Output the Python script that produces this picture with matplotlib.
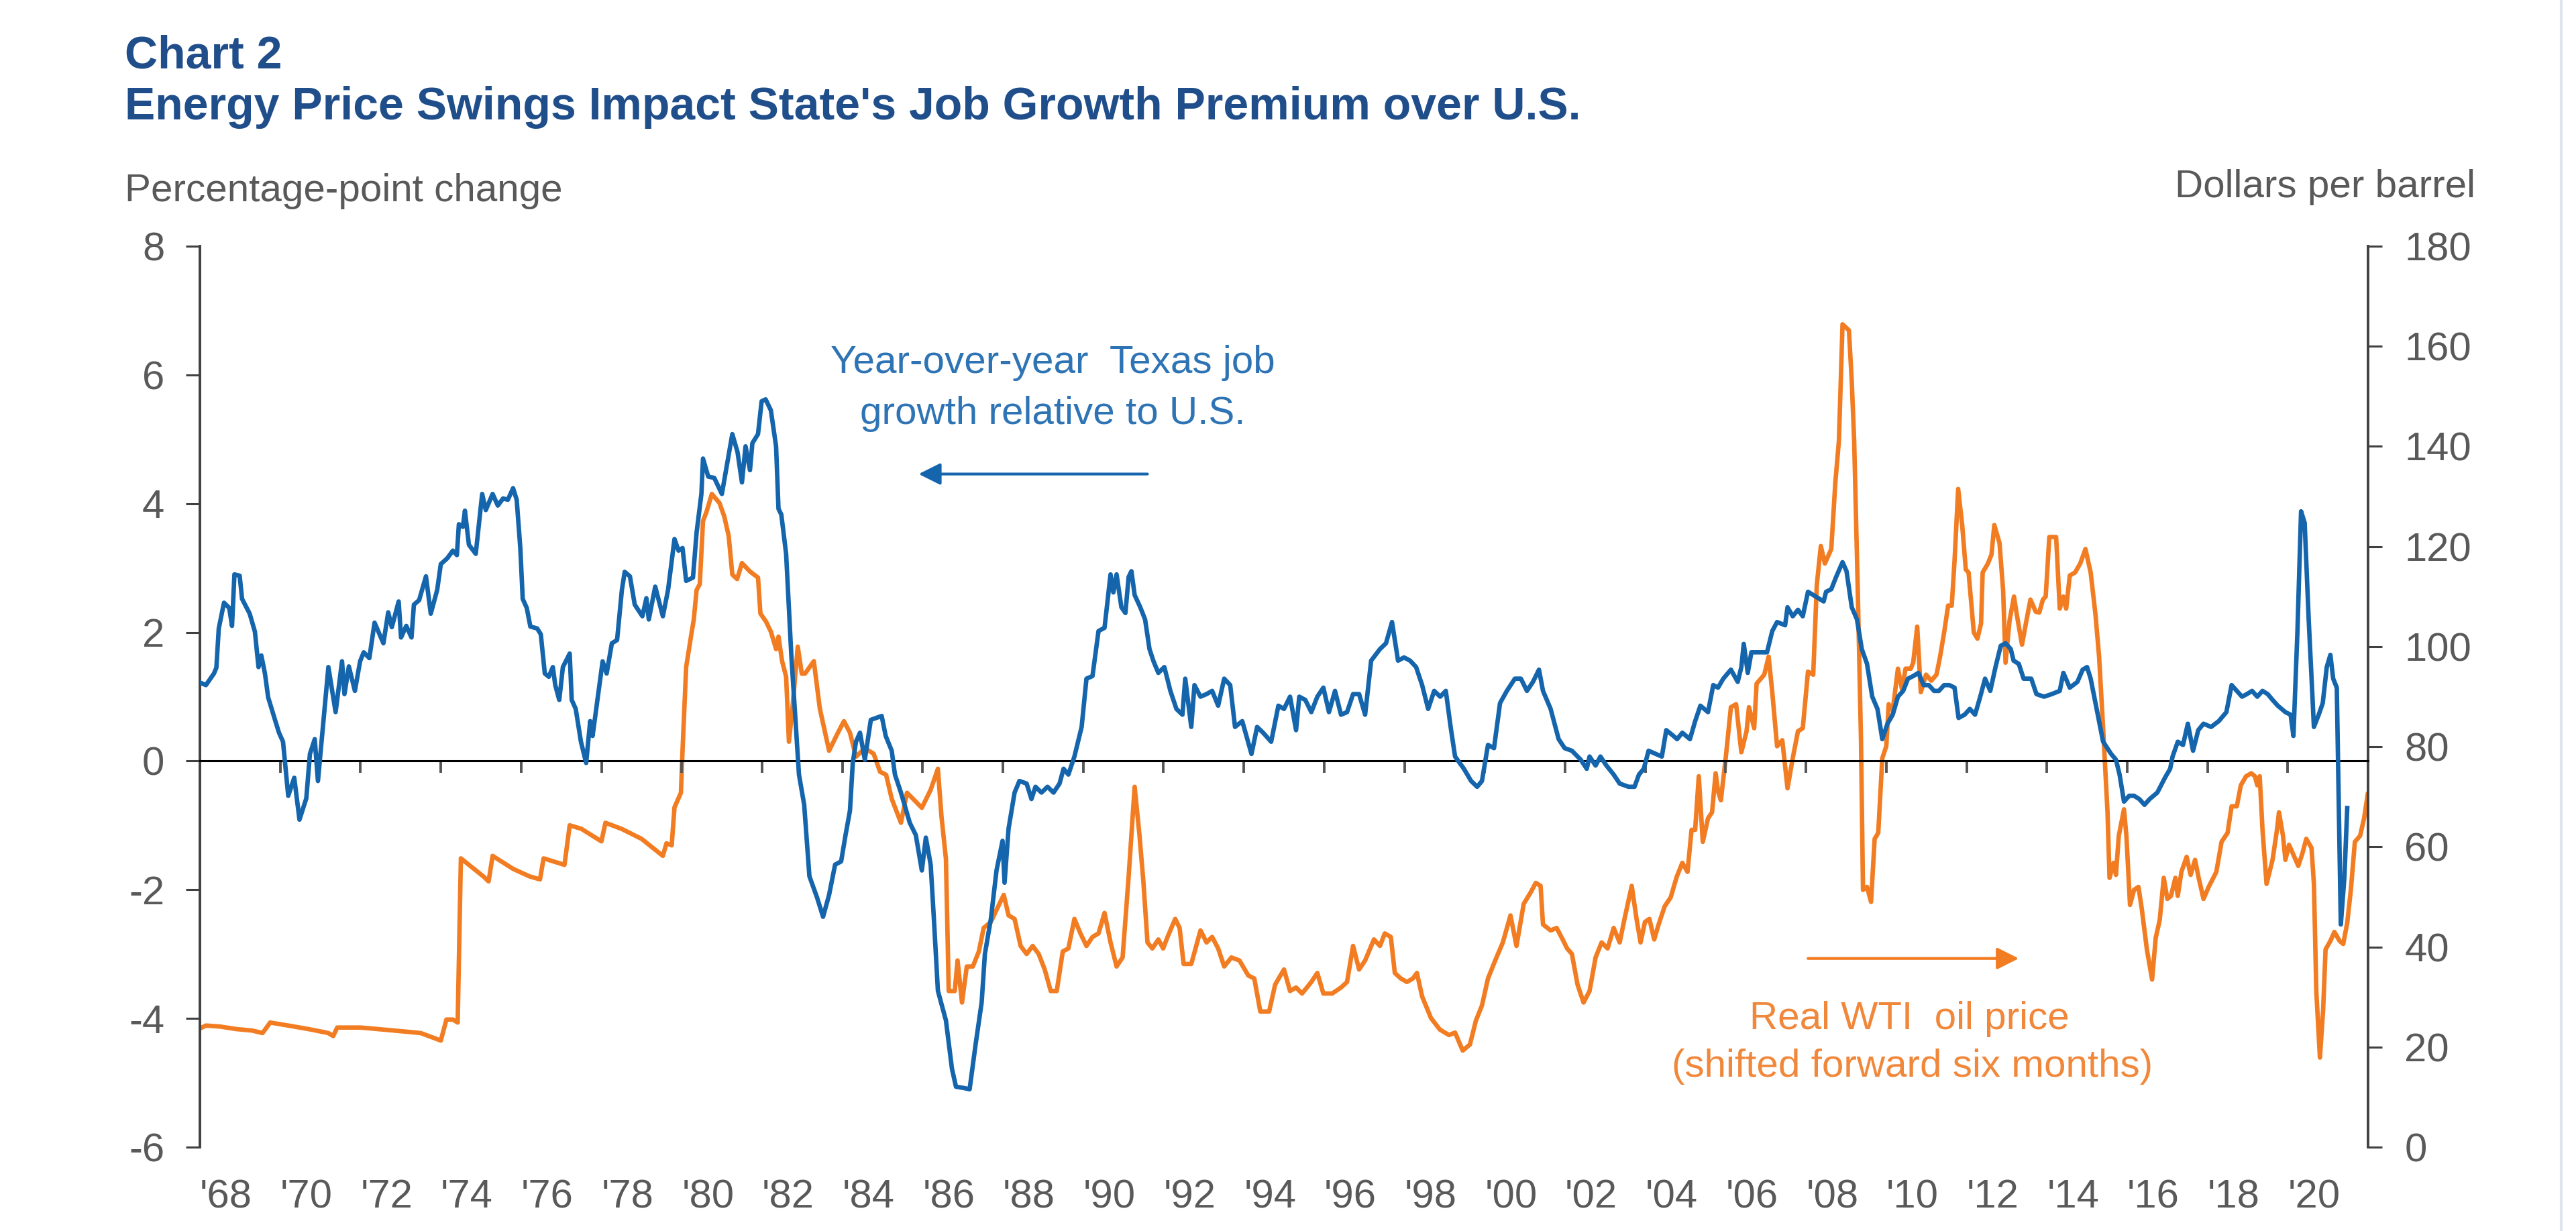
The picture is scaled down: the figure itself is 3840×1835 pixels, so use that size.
import matplotlib
matplotlib.use("Agg")
import matplotlib.pyplot as plt
import matplotlib.transforms as mtransforms

plt.rcParams["font.family"] = ["Liberation Sans", "DejaVu Sans"]

# Texas job growth relative to U.S. (percentage points)
tx_year = [
    1968.0, 1968.15, 1968.35, 1968.41, 1968.47, 1968.6, 1968.73, 1968.8, 1968.86, 1968.99,
    1969.05, 1969.24, 1969.37, 1969.46, 1969.53, 1969.62, 1969.7, 1969.88, 1969.97, 1970.07,
    1970.2, 1970.35, 1970.48, 1970.65, 1970.74, 1970.86, 1970.94, 1971.03, 1971.2, 1971.38,
    1971.54, 1971.6, 1971.71, 1971.86, 1971.99, 1972.08, 1972.22, 1972.35, 1972.57, 1972.69,
    1972.78, 1972.95, 1973.01, 1973.14, 1973.27, 1973.33, 1973.46, 1973.63, 1973.75, 1973.91,
    1974.0, 1974.16, 1974.3, 1974.4, 1974.45, 1974.55, 1974.6, 1974.7, 1974.87, 1975.03,
    1975.12, 1975.29, 1975.42, 1975.55, 1975.67, 1975.8, 1975.89, 1975.98, 1976.04, 1976.14,
    1976.23, 1976.4, 1976.49, 1976.59, 1976.69, 1976.79, 1976.85, 1976.95, 1977.04, 1977.21,
    1977.26, 1977.36, 1977.49, 1977.62, 1977.72, 1977.78, 1977.87, 1978.03, 1978.13, 1978.26,
    1978.39, 1978.51, 1978.58, 1978.71, 1978.83, 1979.02, 1979.12, 1979.18, 1979.34, 1979.53,
    1979.66, 1979.82, 1979.92, 1980.02, 1980.11, 1980.28, 1980.37, 1980.49, 1980.53, 1980.66,
    1980.81, 1981.0, 1981.26, 1981.39, 1981.5, 1981.59, 1981.7, 1981.76, 1981.9, 1981.99,
    1982.09, 1982.22, 1982.35, 1982.41, 1982.48, 1982.6, 1982.73, 1982.92, 1983.05, 1983.18,
    1983.37, 1983.52, 1983.67, 1983.82, 1983.97, 1984.08, 1984.19, 1984.26, 1984.34, 1984.44,
    1984.56, 1984.71, 1984.98, 1985.08, 1985.23, 1985.31, 1985.46, 1985.68, 1985.83, 1985.98,
    1986.08, 1986.2, 1986.28, 1986.38, 1986.58, 1986.73, 1986.83, 1987.02, 1987.17, 1987.32,
    1987.47, 1987.55, 1987.7, 1987.84, 1987.99, 1988.04, 1988.14, 1988.29, 1988.41, 1988.59,
    1988.71, 1988.81, 1988.96, 1989.11, 1989.26, 1989.41, 1989.51, 1989.63, 1989.78, 1989.96,
    1990.08, 1990.23, 1990.38, 1990.53, 1990.68, 1990.75, 1990.83, 1990.95, 1991.05, 1991.13,
    1991.2, 1991.28, 1991.42, 1991.54, 1991.65, 1991.75, 1991.87, 1992.02, 1992.17, 1992.32,
    1992.47, 1992.54, 1992.69, 1992.77, 1992.92, 1993.07, 1993.21, 1993.36, 1993.51, 1993.66,
    1993.78, 1993.96, 1994.19, 1994.33, 1994.48, 1994.68, 1994.86, 1995.0, 1995.15, 1995.3,
    1995.38, 1995.53, 1995.68, 1995.83, 1995.98, 1996.12, 1996.27, 1996.42, 1996.57, 1996.72,
    1996.87, 1997.02, 1997.17, 1997.39, 1997.54, 1997.69, 1997.84, 1997.99, 1998.14, 1998.29,
    1998.44, 1998.59, 1998.74, 1998.89, 1999.03, 1999.15, 1999.26, 1999.48, 1999.66, 1999.81,
    1999.93, 2000.08, 2000.23, 2000.38, 2000.55, 2000.75, 2000.9, 2001.05, 2001.2, 2001.35,
    2001.45, 2001.64, 2001.84, 2001.99, 2002.17, 2002.39, 2002.54, 2002.61, 2002.76, 2002.88,
    2003.03, 2003.21, 2003.36, 2003.58, 2003.73, 2003.84, 2003.96, 2004.08, 2004.26, 2004.41,
    2004.52, 2004.7, 2004.79, 2004.92, 2005.11, 2005.24, 2005.37, 2005.56, 2005.69, 2005.81,
    2005.94, 2006.13, 2006.3, 2006.39, 2006.45, 2006.55, 2006.64, 2006.84, 2007.03, 2007.16,
    2007.28, 2007.48, 2007.54, 2007.67, 2007.8, 2007.92, 2008.05, 2008.18, 2008.31, 2008.44,
    2008.5, 2008.63, 2008.75, 2008.91, 2009.01, 2009.14, 2009.27, 2009.39, 2009.52, 2009.65,
    2009.78, 2009.9, 2010.03, 2010.16, 2010.29, 2010.42, 2010.54, 2010.67, 2010.8, 2010.93,
    2011.06, 2011.19, 2011.31, 2011.44, 2011.57, 2011.7, 2011.8, 2011.95, 2012.08, 2012.21,
    2012.34, 2012.46, 2012.59, 2012.72, 2012.85, 2012.97, 2013.1, 2013.17, 2013.3, 2013.42,
    2013.61, 2013.74, 2013.93, 2014.12, 2014.32, 2014.41, 2014.57, 2014.76, 2014.89, 2015.0,
    2015.09, 2015.21, 2015.4, 2015.6, 2015.72, 2015.81, 2015.92, 2016.05, 2016.17, 2016.3,
    2016.43, 2016.56, 2016.75, 2016.94, 2017.07, 2017.13, 2017.26, 2017.39, 2017.51, 2017.64,
    2017.77, 2017.9, 2018.09, 2018.28, 2018.47, 2018.6, 2018.73, 2018.86, 2018.98, 2019.11,
    2019.24, 2019.37, 2019.5, 2019.62, 2019.75, 2019.94, 2020.07, 2020.14, 2020.24, 2020.33,
    2020.42, 2020.52, 2020.65, 2020.77, 2020.87, 2020.97, 2021.06, 2021.13, 2021.22, 2021.32,
    2021.41, 2021.48,
]
tx_value = [
    1.22, 1.18, 1.36, 1.45, 2.06, 2.46, 2.38, 2.1, 2.9, 2.88,
    2.52, 2.29, 2.01, 1.46, 1.64, 1.36, 0.99, 0.62, 0.44, 0.3,
    -0.54, -0.26, -0.91, -0.58, 0.11, 0.34, -0.31, 0.3, 1.46, 0.76,
    1.55, 1.04, 1.47, 1.09, 1.55, 1.69, 1.6, 2.15, 1.83, 2.31,
    2.08, 2.48, 1.92, 2.1, 1.92, 2.43, 2.5, 2.87, 2.29, 2.66,
    3.06, 3.15, 3.27, 3.2, 3.68, 3.64, 3.89, 3.36, 3.22, 4.15,
    3.9, 4.15, 3.97, 4.08, 4.06, 4.24, 4.06, 3.31, 2.52, 2.38,
    2.09, 2.06, 1.97, 1.36, 1.31, 1.46, 1.18, 0.95, 1.46, 1.67,
    0.95, 0.81, 0.3, -0.03, 0.62, 0.39, 0.81, 1.55, 1.36, 1.83,
    1.88, 2.66, 2.94, 2.87, 2.43, 2.25, 2.53, 2.2, 2.71, 2.25,
    2.66, 3.45, 3.27, 3.31, 2.8, 2.85, 3.55, 4.15, 4.7, 4.42,
    4.4, 4.15, 5.08, 4.8, 4.33, 4.89, 4.52, 4.94, 5.08, 5.59,
    5.62, 5.45, 4.89, 3.92, 3.83, 3.22, 1.64, -0.21, -0.68, -1.79,
    -2.12, -2.42, -2.08, -1.61, -1.56, -1.15, -0.77, -0.03, 0.3, 0.44,
    0.02, 0.64, 0.7, 0.39, 0.16, -0.21, -0.49, -0.96, -1.15, -1.7,
    -1.19, -1.61, -2.45, -3.57, -4.03, -4.78, -5.06, -5.08, -5.1, -4.4,
    -3.75, -3.0, -2.45, -1.7, -1.24, -1.89, -1.05, -0.49, -0.31, -0.35,
    -0.59, -0.4, -0.49, -0.4, -0.49, -0.35, -0.12, -0.21, 0.07, 0.53,
    1.28, 1.32, 2.02, 2.07, 2.9, 2.62, 2.9, 2.39, 2.3, 2.86,
    2.95, 2.58, 2.39, 2.2, 1.74, 1.55, 1.37, 1.46, 1.09, 0.81,
    0.72, 1.28, 0.53, 1.18, 1.0, 1.04, 1.09, 0.86, 1.28, 1.18,
    0.53, 0.62, 0.11, 0.53, 0.44, 0.3, 0.86, 0.81, 1.0, 0.48,
    1.0, 0.95, 0.76, 1.0, 1.14, 0.76, 1.09, 0.72, 0.76, 1.04,
    1.04, 0.72, 1.56, 1.74, 1.83, 2.16, 1.56, 1.61, 1.56, 1.46,
    1.18, 0.81, 1.09, 1.0, 1.09, 0.53, 0.07, -0.12, -0.31, -0.4,
    -0.31, 0.25, 0.2, 0.9, 1.09, 1.28, 1.28, 1.09, 1.23, 1.42,
    1.09, 0.81, 0.34, 0.2, 0.16, 0.02, -0.12, 0.07, -0.07, 0.07,
    -0.07, -0.21, -0.35, -0.4, -0.4, -0.21, -0.12, 0.16, 0.11, 0.07,
    0.48, 0.39, 0.34, 0.44, 0.34, 0.62, 0.86, 0.76, 1.18, 1.14,
    1.28, 1.42, 1.23, 1.46, 1.82, 1.37, 1.69, 1.69, 1.69, 2.02,
    2.16, 2.11, 2.39, 2.25, 2.35, 2.25, 2.63, 2.58, 2.53, 2.48,
    2.63, 2.67, 2.86, 3.09, 2.95, 2.39, 2.2, 1.74, 1.51, 1.0,
    0.81, 0.34, 0.58, 0.72, 1.0, 1.09, 1.28, 1.32, 1.37, 1.18,
    1.18, 1.09, 1.09, 1.18, 1.18, 1.14, 0.67, 0.72, 0.81, 0.72,
    1.0, 1.28, 1.09, 1.46, 1.79, 1.83, 1.74, 1.56, 1.51, 1.28,
    1.28, 1.04, 1.0, 1.04, 1.09, 1.37, 1.14, 1.23, 1.42, 1.46,
    1.28, 0.9, 0.3, 0.11, 0.02, -0.21, -0.63, -0.54, -0.54, -0.59,
    -0.68, -0.59, -0.49, -0.26, -0.12, 0.07, 0.3, 0.25, 0.58, 0.16,
    0.48, 0.58, 0.53, 0.62, 0.76, 1.18, 1.09, 1.0, 1.04, 1.09,
    1.0, 1.09, 1.04, 0.95, 0.86, 0.76, 0.72, 0.39, 2.02, 3.88,
    3.7, 2.2, 0.53, 0.72, 0.9, 1.46, 1.65, 1.28, 1.14, -2.54,
    -1.8, -0.73,
]

# Real WTI oil price shifted forward six months (dollars per barrel)
oil_year = [
    1968.0, 1968.15, 1968.5, 1968.9, 1969.3, 1969.56, 1969.75, 1970.2, 1970.7, 1971.2,
    1971.32, 1971.42, 1972.0, 1972.7, 1973.5, 1974.0, 1974.14, 1974.3, 1974.42, 1974.5,
    1974.7, 1975.06, 1975.19, 1975.29, 1975.8, 1976.21, 1976.47, 1976.56, 1977.08, 1977.21,
    1977.5, 1978.0, 1978.1, 1978.5, 1979.0, 1979.53, 1979.62, 1979.75, 1979.82, 1979.98,
    1980.02, 1980.11, 1980.24, 1980.3, 1980.37, 1980.45, 1980.53, 1980.62, 1980.75, 1980.94,
    1981.06, 1981.17, 1981.26, 1981.38, 1981.5, 1981.7, 1981.9, 1981.96, 1982.1, 1982.22,
    1982.35, 1982.41, 1982.5, 1982.6, 1982.67, 1982.76, 1982.89, 1982.99, 1983.07, 1983.29,
    1983.44, 1983.67, 1983.89, 1984.04, 1984.19, 1984.34, 1984.56, 1984.78, 1984.94, 1985.09,
    1985.23, 1985.46, 1985.61, 1985.76, 1985.98, 1986.2, 1986.38, 1986.47, 1986.58, 1986.65,
    1986.8, 1986.87, 1986.98, 1987.1, 1987.25, 1987.4, 1987.52, 1987.7, 1987.84, 1988.02,
    1988.14, 1988.29, 1988.44, 1988.59, 1988.74, 1988.89, 1989.04, 1989.19, 1989.34, 1989.49,
    1989.63, 1989.78, 1989.93, 1990.08, 1990.23, 1990.38, 1990.53, 1990.68, 1990.83, 1990.98,
    1991.13, 1991.28, 1991.4, 1991.5, 1991.6, 1991.72, 1991.87, 1991.99, 1992.1, 1992.29,
    1992.4, 1992.5, 1992.69, 1992.92, 1993.07, 1993.21, 1993.36, 1993.51, 1993.69, 1993.89,
    1994.11, 1994.26, 1994.41, 1994.63, 1994.78, 1995.0, 1995.15, 1995.3, 1995.45, 1995.68,
    1995.83, 1995.98, 1996.2, 1996.42, 1996.57, 1996.72, 1996.87, 1997.02, 1997.24, 1997.39,
    1997.51, 1997.66, 1997.76, 1997.91, 1998.06, 1998.21, 1998.31, 1998.44, 1998.66, 1998.88,
    1999.11, 1999.26, 1999.45, 1999.63, 1999.78, 1999.93, 2000.08, 2000.26, 2000.45, 2000.64,
    2000.79, 2000.97, 2001.15, 2001.27, 2001.39, 2001.45, 2001.64, 2001.79, 2001.94, 2002.05,
    2002.17, 2002.31, 2002.46, 2002.61, 2002.76, 2002.91, 2003.06, 2003.21, 2003.36, 2003.48,
    2003.66, 2003.78, 2003.88, 2003.99, 2004.1, 2004.22, 2004.33, 2004.48, 2004.63, 2004.78,
    2004.92, 2005.05, 2005.15, 2005.24, 2005.33, 2005.43, 2005.56, 2005.66, 2005.75, 2005.81,
    2005.88, 2006.0, 2006.13, 2006.26, 2006.39, 2006.52, 2006.58, 2006.71, 2006.77, 2006.96,
    2007.07, 2007.16, 2007.28, 2007.41, 2007.54, 2007.67, 2007.8, 2007.92, 2008.05, 2008.18,
    2008.27, 2008.37, 2008.47, 2008.63, 2008.73, 2008.82, 2008.91, 2009.07, 2009.14, 2009.2,
    2009.29, 2009.37, 2009.42, 2009.52, 2009.62, 2009.71, 2009.8, 2009.9, 2010.0, 2010.06,
    2010.16, 2010.29, 2010.39, 2010.48, 2010.61, 2010.67, 2010.77, 2010.86, 2010.99, 2011.12,
    2011.25, 2011.34, 2011.44, 2011.54, 2011.63, 2011.7, 2011.79, 2011.89, 2011.98, 2012.05,
    2012.18, 2012.27, 2012.36, 2012.4, 2012.53, 2012.62, 2012.69, 2012.82, 2012.91, 2012.97,
    2013.07, 2013.18, 2013.25, 2013.38, 2013.49, 2013.59, 2013.72, 2013.81, 2013.9, 2013.97,
    2014.06, 2014.23, 2014.32, 2014.41, 2014.48, 2014.57, 2014.7, 2014.83, 2014.96, 2015.09,
    2015.21, 2015.3, 2015.4, 2015.51, 2015.56, 2015.66, 2015.72, 2015.79, 2015.92, 2015.98,
    2016.07, 2016.17, 2016.28, 2016.36, 2016.49, 2016.62, 2016.71, 2016.81, 2016.91, 2017.0,
    2017.09, 2017.2, 2017.26, 2017.35, 2017.48, 2017.58, 2017.69, 2017.78, 2017.9, 2018.03,
    2018.22, 2018.35, 2018.5, 2018.6, 2018.73, 2018.83, 2018.96, 2019.09, 2019.18, 2019.24,
    2019.3, 2019.37, 2019.47, 2019.62, 2019.73, 2019.78, 2019.88, 2019.94, 2020.03, 2020.13,
    2020.26, 2020.36, 2020.46, 2020.59, 2020.65, 2020.71, 2020.8, 2020.88, 2020.94, 2021.06,
    2021.16, 2021.29, 2021.38, 2021.48, 2021.57, 2021.67, 2021.8, 2021.9, 2021.99,
]
oil_price = [
    23.7, 24.3, 24.1, 23.6, 23.3, 22.8, 24.9, 24.3, 23.6, 22.8,
    22.2, 23.9, 23.9, 23.4, 22.8, 21.3, 25.5, 25.5, 24.9, 57.7,
    56.4, 54.1, 53.1, 58.2, 55.6, 54.1, 53.5, 57.7, 56.4, 64.3,
    63.6, 61.1, 64.8, 63.6, 61.6, 58.2, 60.7, 60.3, 67.9, 70.8,
    79.2, 95.9, 102.5, 105.4, 111.3, 112.5, 125.1, 127.0, 130.5, 128.7,
    126.0, 122.1, 114.4, 113.5, 116.7, 115.0, 113.8, 106.6, 105.0, 103.0,
    99.5, 102.0, 97.1, 94.0, 81.0, 88.0, 100.0, 94.6, 94.6, 97.1,
    87.6, 79.2, 82.8, 85.1, 82.8, 78.0, 79.7, 78.6, 75.0, 74.4,
    69.6, 64.8, 70.8, 69.6, 67.8, 71.4, 75.6, 66.0, 57.6, 31.2,
    31.2, 37.3, 28.9, 36.1, 36.1, 39.1, 43.8, 45.0, 47.4, 50.4,
    46.3, 45.6, 40.2, 38.6, 40.2, 38.6, 35.5, 31.2, 31.2, 39.1,
    39.7, 45.6, 42.7, 40.2, 42.0, 42.7, 46.8, 40.9, 36.1, 37.9,
    54.0, 72.0, 62.4, 52.8, 40.9, 39.7, 41.5, 39.7, 42.0, 45.6,
    43.8, 36.6, 36.6, 43.3, 40.9, 42.0, 39.7, 36.1, 37.9, 37.3,
    34.3, 33.7, 27.1, 27.1, 32.5, 35.5, 31.2, 31.9, 30.7, 33.0,
    34.8, 30.7, 30.7, 31.9, 33.0, 40.2, 35.5, 37.3, 41.5, 40.2,
    42.7, 42.0, 34.8, 33.7, 33.0, 33.7, 34.8, 30.1, 25.8, 23.5,
    22.4, 22.9, 19.3, 20.5, 25.3, 28.3, 33.7, 37.3, 40.9, 46.3,
    40.2, 48.6, 51.0, 52.8, 52.2, 44.5, 43.3, 43.8, 41.5, 39.7,
    38.6, 32.5, 28.9, 31.2, 37.9, 40.9, 39.7, 43.8, 40.9, 45.6,
    52.2, 45.6, 40.9, 45.0, 45.6, 41.5, 44.5, 48.1, 49.9, 54.0,
    56.8, 55.0, 63.4, 63.4, 74.1, 61.0, 65.7, 66.9, 74.7, 71.1,
    69.3, 77.7, 87.9, 88.5, 78.9, 83.1, 87.9, 83.7, 92.6, 94.4,
    98.0, 90.9, 80.1, 81.3, 71.7, 77.7, 83.1, 83.7, 95.0, 94.4,
    112.4, 120.1, 116.6, 119.5, 132.7, 141.1, 164.4, 163.2, 153.0, 141.1,
    111.2, 81.3, 51.4, 52.0, 49.0, 61.6, 62.8, 77.7, 80.1, 88.5,
    87.3, 95.6, 91.5, 95.6, 95.6, 96.8, 104.0, 90.9, 94.4, 93.2,
    94.4, 98.0, 102.8, 108.2, 108.2, 117.2, 131.5, 124.3, 115.4, 114.8,
    102.8, 101.6, 104.6, 114.8, 116.6, 118.4, 124.3, 120.7, 111.2, 96.8,
    105.2, 110.0, 106.4, 100.4, 105.2, 109.4, 107.0, 106.8, 109.4, 110.0,
    121.9, 121.9, 107.6, 110.0, 107.6, 114.2, 114.8, 116.6, 119.5, 114.8,
    106.4, 98.0, 83.7, 66.9, 53.8, 56.8, 54.4, 62.2, 67.5, 62.2,
    48.4, 51.4, 52.0, 47.8, 39.5, 33.5, 41.8, 45.4, 53.8, 49.6,
    50.2, 53.8, 50.2, 55.0, 58.0, 54.4, 57.4, 53.8, 49.6, 52.0,
    55.0, 61.0, 62.8, 68.1, 68.1, 72.3, 74.1, 74.7, 74.1, 72.3,
    74.1, 63.4, 52.6, 57.4, 63.4, 66.9, 62.2, 57.4, 60.4, 58.6,
    56.2, 58.6, 61.6, 59.8, 52.6, 31.1, 17.9, 27.5, 39.5, 41.2,
    43.0, 41.2, 40.6, 44.8, 51.4, 61.0, 62.2, 65.7, 70.5,
]

label_years = list(range(1968, 2021, 2))
tick_years = list(range(1970, 2021, 2))
left_ticks = [-6, -4, -2, 0, 2, 4, 6, 8]
right_ticks = [0, 20, 40, 60, 80, 100, 120, 140, 160, 180]

BLUE = "#1565ad"
ORANGE = "#f27c22"
GREY = "#595959"
NAVY = "#1f4e8a"

fig = plt.figure(figsize=(38.4, 18.35), dpi=100)
ax = fig.add_axes([0.0776, 0.0681, 0.8417, 0.7319])
ax2 = ax.twinx()

ax.plot(tx_year, tx_value, color=BLUE, linewidth=4.8, zorder=3)
ax2.plot(oil_year, oil_price, color=ORANGE, linewidth=4.8, zorder=2)

ax.set_xlim(1968, 2022)
ax.set_ylim(-6, 8)
ax2.set_ylim(0, 180)
ax.set_zorder(ax2.get_zorder() + 1)
ax.patch.set_visible(False)

# zero line doubles as the x axis, with small ticks every two years
ax.spines["bottom"].set_position(("data", 0))
ax.spines["bottom"].set_color("black")
ax.spines["bottom"].set_linewidth(2.2)
ax.set_xticks(tick_years)
ax.tick_params(axis="x", direction="out", length=13, width=2.8, colors="#555555",
               labelbottom=False)

for a in (ax, ax2):
    a.spines["top"].set_visible(False)
ax2.spines["bottom"].set_visible(False)
ax2.spines["left"].set_visible(False)
ax.spines["right"].set_visible(False)
ax.spines["left"].set_color("#404040")
ax.spines["left"].set_linewidth(2.8)
ax2.spines["right"].set_color("#404040")
ax2.spines["right"].set_linewidth(2.8)

ax.set_yticks(left_ticks)
ax.set_yticklabels([str(v) for v in left_ticks])
ax.tick_params(axis="y", direction="out", length=15, width=2.2, colors="#404040",
               labelcolor=GREY, labelsize=43, pad=23)
ax2.set_yticks(right_ticks)
ax2.set_yticklabels([str(v) for v in right_ticks])
ax2.tick_params(axis="y", direction="out", length=15, width=2.2, colors="#404040",
                labelcolor=GREY, labelsize=43, pad=24)

trans = mtransforms.blended_transform_factory(ax.transData, ax.transAxes)
for yr in label_years:
    ax.text(yr, -0.067, "'" + str(yr)[2:], transform=trans, ha="left",
            va="baseline", fontsize=43, color=GREY, clip_on=False)

# annotations
ax.text(1989.24, 6.19, "Year-over-year  Texas job", ha="center", va="center",
        fontsize=42, color="#2e74b5")
ax.text(1989.24, 5.39, "growth relative to U.S.", ha="center", va="center",
        fontsize=42, color="#2e74b5")
ax.annotate("", xy=(1985.9, 4.46), xytext=(1991.6, 4.46),
            arrowprops=dict(arrowstyle="-|>,head_length=0.9,head_width=0.45",
                            mutation_scale=22, color=BLUE, lw=3, shrinkA=0, shrinkB=0))
ax.text(2010.57, -4.01, "Real WTI  oil price", ha="center", va="center",
        fontsize=42, color="#f0873a")
ax.text(2010.64, -4.75, "(shifted forward six months)", ha="center", va="center",
        fontsize=42, color="#f0873a")
ax2.annotate("", xy=(2013.3, 37.7), xytext=(2008.05, 37.7),
             arrowprops=dict(arrowstyle="-|>,head_length=0.9,head_width=0.45",
                             mutation_scale=22, color=ORANGE, lw=3, shrinkA=0, shrinkB=0))

# titles and axis captions
fig.text(0.0484, 1 - 102 / 1835, "Chart 2", fontsize=49, fontweight="bold",
         color=NAVY, va="baseline")
fig.text(0.0484, 1 - 178 / 1835,
         "Energy Price Swings Impact State's Job Growth Premium over U.S.",
         fontsize=49, fontweight="bold", color=NAVY, va="baseline")
fig.text(0.0484, 1 - 300 / 1835, "Percentage-point change", fontsize=42,
         color=GREY, va="baseline")
fig.text(3690 / 3840, 1 - 294 / 1835, "Dollars per barrel", fontsize=42,
         color=GREY, va="baseline", ha="right")

# faint frame edge on the right of the original screenshot
fig.add_artist(plt.Line2D([3818 / 3840, 3818 / 3840], [0, 1], color="#dfe4ee",
                          linewidth=3, transform=fig.transFigure))

fig.savefig("out.png", dpi=100)
plt.close(fig)
